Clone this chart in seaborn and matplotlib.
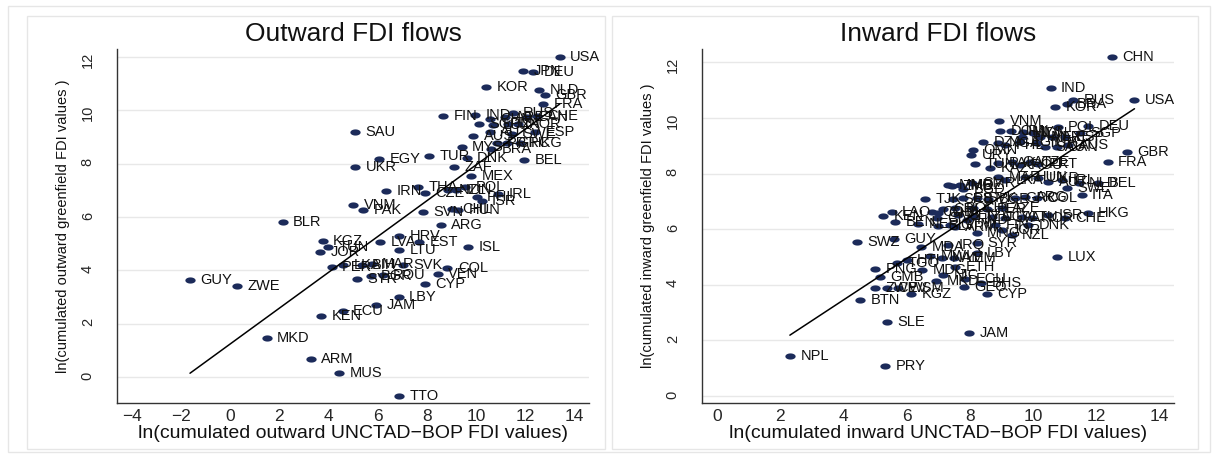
import numpy as np
import pandas as pd
import seaborn as sns
import matplotlib.pyplot as plt
from matplotlib.path import Path
from matplotlib.patches import Rectangle

# ---- Outward panel data ----
out_codes = ["USA", "JPN", "DEU", "KOR", "NLD", "GBR", "FRA", "FIN", "IND", "CHN",
             "ARE", "RUS", "CAN", "CHE", "SGP", "LUX", "ITA", "NOR", "AUS", "AUT",
             "SWE", "ESP", "MYS", "PRT", "GRC", "HKG", "BRA", "TUR", "DNK", "EGY",
             "BEL", "SAU", "UKR", "ZAF", "MEX", "IRN", "THA", "CZE", "NZL", "IDN",
             "POL", "PHL", "ISR", "IRL", "VNM", "PAK", "SVN", "CHL", "HUN", "ARG",
             "BLR", "HRV", "KGZ", "TUN", "JOR", "LVA", "EST", "ISL", "LTU", "PER",
             "LKA", "BIH", "MAR", "SVK", "COL", "VEN", "BGR", "ROU", "SYR", "CYP",
             "LBY", "JAM", "ECU", "KEN", "MKD", "ARM", "MUS", "TTO", "GUY", "ZWE"]
out_x = [13.41, 11.92, 12.33, 10.43, 12.57, 12.80, 12.74, 8.67, 9.96, 10.57,
         11.18, 11.49, 12.06, 12.47, 10.12, 10.68, 11.31, 11.72, 9.89, 10.57,
         11.45, 12.40, 9.42, 10.84, 11.25, 11.79, 10.63, 8.10, 9.62, 6.07,
         11.97, 5.08, 5.08, 9.11, 9.82, 6.34, 7.66, 7.93, 8.87, 9.21,
         9.55, 10.03, 10.23, 10.91, 5.01, 5.42, 7.86, 9.01, 9.28, 8.58,
         2.14, 6.87, 3.77, 4.00, 3.66, 6.10, 7.70, 9.69, 6.87, 4.13,
         4.61, 5.35, 5.76, 7.05, 8.84, 8.44, 5.72, 6.21, 5.18, 7.91,
         6.86, 5.93, 4.58, 3.70, 1.49, 3.29, 4.44, 6.87, -1.63, 0.27]
out_y = [11.99, 11.47, 11.42, 10.86, 10.78, 10.57, 10.25, 9.77, 9.81, 9.69,
         9.76, 9.91, 9.76, 9.80, 9.49, 9.45, 9.49, 9.49, 9.04, 9.17,
         9.13, 9.17, 8.64, 8.76, 8.76, 8.76, 8.57, 8.29, 8.20, 8.16,
         8.14, 9.17, 7.86, 7.89, 7.54, 6.99, 7.14, 6.92, 7.03, 7.01,
         7.11, 6.76, 6.62, 6.86, 6.44, 6.26, 6.19, 6.32, 6.26, 5.71,
         5.83, 5.30, 5.11, 4.89, 4.70, 5.06, 5.06, 4.87, 4.78, 4.13,
         4.21, 4.21, 4.23, 4.20, 4.10, 3.88, 3.79, 3.81, 3.67, 3.49,
         3.02, 2.69, 2.49, 2.30, 1.47, 0.69, 0.16, -0.71, 3.64, 3.41]
out_fit = [1.24, 0.671]   # intercept, slope of the fitted line

# ---- Inward panel data ----
in_codes = ["CHN", "IND", "RUS", "BRA", "KOR", "USA", "VNM", "DOM", "JPN", "MYS",
            "IDN", "POL", "DEU", "SGP", "THA", "MEX", "ARE", "ESP", "DZA", "NGA",
            "PHL", "EGY", "TUR", "SAU", "CAN", "AUS", "OMN", "URY", "GBR", "FRA",
            "TUN", "KAZ", "PAK", "QAT", "ROU", "CZE", "PRT", "MAR", "LKA", "HUN",
            "UKR", "AUT", "IRL", "NLD", "BEL", "ZMB", "MOZ", "CMR", "MMR", "BGD",
            "SWE", "TJK", "SRB", "EST", "SVK", "BGR", "GRC", "ARG", "COL", "ITA",
            "BOL", "COD", "CRI", "CHL", "PER", "AZE", "HKG", "CHE", "GHA", "SEN",
            "TZA", "UGA", "LVA", "LTU", "NOR", "ISR", "NER", "LAO", "KEN", "BEN",
            "CIV", "HND", "GTM", "SLV", "ARM", "MNG", "JOR", "NZL", "DNK", "FIN",
            "SWZ", "GUY", "MDA", "IRQ", "SYR", "LBY", "MWI", "NAM", "YEM", "TGO",
            "HTI", "PNG", "MDG", "ETH", "MKD", "NIC", "ECU", "GEO", "BHS", "GMB",
            "ZWE", "CPV", "WSM", "KGZ", "BTN", "CYP", "LUX", "JAM", "SLE", "PRY",
            "NPL"]
in_x = [12.49, 10.56, 11.28, 11.07, 10.70, 13.21, 8.94, 8.96, 9.30, 9.67,
        9.99, 10.78, 11.75, 11.49, 9.64, 10.22, 10.59, 11.01, 8.43, 8.90,
        9.11, 9.59, 10.12, 10.38, 10.75, 11.12, 8.11, 8.04, 12.96, 12.36,
        8.17, 8.64, 8.90, 9.33, 9.59, 9.91, 10.17, 8.90, 9.11, 9.75,
        10.17, 10.49, 10.91, 11.44, 12.07, 7.45, 7.69, 8.06, 7.32, 7.80,
        11.07, 6.58, 7.48, 7.80, 8.22, 8.59, 9.43, 9.75, 10.12, 11.54,
        7.53, 6.79, 7.16, 8.11, 8.53, 9.01, 11.73, 11.01, 7.00, 7.64,
        8.11, 8.69, 9.11, 9.64, 9.96, 10.49, 6.37, 5.53, 5.26, 5.63,
        6.95, 7.90, 7.37, 7.00, 7.53, 8.22, 9.01, 9.32, 9.85, 8.80,
        4.44, 5.60, 6.47, 7.32, 8.22, 8.22, 6.74, 7.11, 7.50, 5.69,
        6.00, 5.00, 6.50, 7.53, 6.93, 7.16, 7.85, 7.81, 8.35, 5.16,
        5.00, 5.37, 5.74, 6.14, 4.53, 8.53, 10.77, 7.99, 5.37, 5.32,
        2.31]
in_y = [12.20, 11.09, 10.65, 10.50, 10.38, 10.65, 9.90, 9.53, 9.53, 9.51,
        9.47, 9.67, 9.72, 9.47, 9.33, 9.33, 9.31, 9.31, 9.15, 9.09,
        9.03, 9.15, 9.09, 8.97, 8.97, 9.03, 8.85, 8.67, 8.77, 8.41,
        8.35, 8.19, 8.37, 8.40, 8.31, 8.40, 8.35, 7.89, 7.77, 7.89,
        7.83, 7.71, 7.77, 7.67, 7.65, 7.55, 7.59, 7.67, 7.59, 7.45,
        7.49, 7.09, 7.09, 7.13, 7.11, 7.07, 7.11, 7.17, 7.11, 7.23,
        6.75, 6.63, 6.71, 6.75, 6.72, 6.75, 6.59, 6.39, 6.57, 6.51,
        6.45, 6.45, 6.39, 6.45, 6.39, 6.51, 6.20, 6.63, 6.47, 6.25,
        6.39, 6.33, 6.15, 6.12, 6.09, 5.85, 5.97, 5.79, 6.15, 6.15,
        5.55, 5.64, 5.37, 5.43, 5.52, 5.13, 5.04, 4.95, 4.95, 4.80,
        4.89, 4.57, 4.52, 4.65, 4.13, 4.35, 4.20, 3.92, 4.05, 4.27,
        3.87, 3.87, 3.87, 3.66, 3.45, 3.66, 5.01, 2.28, 2.67, 1.09,
        1.44]
in_fit = [0.464, 0.747]

out_xticks = [-4, -2, 0, 2, 4, 6, 8, 10, 12, 14]
in_xticks = [0, 2, 4, 6, 8, 10, 12, 14]
yticks = [0, 2, 4, 6, 8, 10, 12]

sns.set_style("white")
plt.rcParams["font.family"] = ["Liberation Sans", "DejaVu Sans"]
narrow = ["Liberation Sans Narrow", "Liberation Sans", "DejaVu Sans"]

navy = "#1c2b5a"
tt = np.linspace(0, 2 * np.pi, 41)
dot = Path(np.column_stack([np.cos(tt), 0.6 * np.sin(tt)]), closed=True)

fig = plt.figure(figsize=(12.13, 4.54), dpi=100)
W, H = 1213, 454
for (x0, y0, x1, y1) in [(8, 6, 1210, 452), (27, 16, 605, 449), (612, 16, 1198, 449)]:
    fig.add_artist(Rectangle((x0 / W, 1 - y1 / H), (x1 - x0) / W, (y1 - y0) / H,
                             transform=fig.transFigure, fill=False,
                             ec="#e6e6e6", lw=1))

ax1 = fig.add_axes([117 / W, 1 - 403 / H, 472 / W, 354 / H])
ax2 = fig.add_axes([702 / W, 1 - 403 / H, 472 / W, 354 / H])


def panel(ax, codes, xs, ys, fit, title, xlabel, ylabel, xlim, ylim, xticks):
    df = pd.DataFrame({"code": codes, "x": xs, "y": ys})
    ax.set_axisbelow(True)
    ax.grid(axis="y", color="#e8e8e8", lw=1)
    ax.grid(axis="x", visible=False)
    sns.scatterplot(data=df, x="x", y="y", marker=dot, s=55, color=navy,
                    linewidth=0, ax=ax, zorder=3)
    for r in df.itertuples():
        ax.annotate(r.code, (r.x, r.y), xytext=(7.5, 0), textcoords="offset points",
                    va="center", ha="left", fontsize=10.5, color="#111111", zorder=4)
    lx = np.array([df.x.min(), df.x.max()])
    sns.lineplot(x=lx, y=fit[0] + fit[1] * lx, color="black", lw=1.1, ax=ax, zorder=5)

    ax.set_xlim(xlim)
    ax.set_ylim(ylim)
    ax.set_xticks(xticks)
    ax.set_yticks(yticks)
    for s in ["top", "right"]:
        ax.spines[s].set_visible(False)
    for s in ["left", "bottom"]:
        ax.spines[s].set_color("#333333")
        ax.spines[s].set_linewidth(1)
    ax.tick_params(axis="x", length=4, width=1, pad=0, labelsize=12.5, color="#333333")
    ax.tick_params(axis="y", length=8, width=1, pad=8, labelsize=10.5,
                   labelrotation=90, color="#333333")
    for lbl in ax.get_yticklabels():
        lbl.set_fontfamily(narrow)

    ax.set_title(title, fontsize=19, pad=6, color="#111111")
    ax.set_xlabel(xlabel, fontsize=14, color="#111111")
    ax.xaxis.set_label_coords(0.5, -0.085)
    ax.xaxis.label.set_va("center")
    ax.set_ylabel(ylabel, fontsize=10.5, color="#111111", family=narrow)
    ax.yaxis.set_label_coords(-0.114, 0.5)
    ax.yaxis.label.set_va("center")


panel(ax1, out_codes, out_x, out_y, out_fit, "Outward FDI flows",
      "ln(cumulated outward UNCTAD\u2212BOP FDI values)",
      "ln(cumulated outward greenfield FDI values )",
      (-4.6, 14.6), (-0.97, 12.3), out_xticks)
panel(ax2, in_codes, in_x, in_y, in_fit, "Inward FDI flows",
      "ln(cumulated inward UNCTAD\u2212BOP FDI values)",
      "ln(cumulated inward greenfield FDI values )",
      (-0.47, 14.46), (-0.25, 12.48), in_xticks)

fig.savefig("out.png", dpi=100)
